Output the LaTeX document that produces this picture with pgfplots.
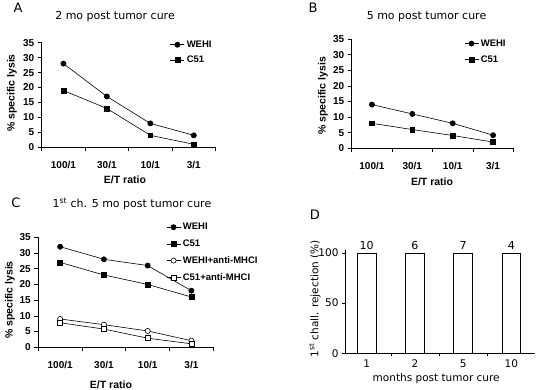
\documentclass[border=0pt]{standalone}
\usepackage{pgfplots}
\pgfplotsset{compat=1.18}
\usepackage{fontspec}
\setmainfont{Liberation Sans}
\newfontfamily\geneva{DejaVu Sans}

\pgfplotsset{
  lineplot/.style={
    scale only axis,
    axis x line*=bottom, axis y line*=left,
    axis line style={-, line width=0.6pt, black},
    xmin=-0.5, xmax=3.5, ymin=0, ymax=35,
    ytick={0,5,...,35},
    xtick={-0.5,0.5,1.5,2.5,3.5}, xticklabels={,,,,},
    extra x ticks={0,1,2,3},
    extra x tick labels={100/1,30/1,10/1,3/1},
    extra x tick style={major tick length=0pt, tick label style={yshift=-10pt}},
    tick align=outside, major tick length=4pt,
    tick style={line width=0.6pt, black},
    tick label style={font=\bfseries\fontsize{10}{12}\selectfont},
    /pgf/number format/assume math mode=true,
    label style={font=\bfseries\fontsize{10.5}{12}\selectfont},
    title style={font=\geneva\fontsize{11}{13}\selectfont, anchor=center},
    clip=false,
    legend style={draw=none, fill=none, font=\bfseries\fontsize{9.5}{11}\selectfont,
      anchor=north west, inner sep=0pt, row sep=3pt, cells={anchor=west}},
    legend image code/.code={\draw[mark repeat=2,mark phase=2] plot coordinates {(0pt,0pt)(7pt,0pt)(14pt,0pt)};},
  },
  wehi/.style={black, line width=0.6pt, mark=*, mark size=2.6pt, mark options={solid, fill=black}},
  cs/.style={black, line width=0.6pt, mark=square*, mark size=2.4pt, mark options={solid, fill=black}},
  wehia/.style={black, line width=0.6pt, mark=*, mark size=2.6pt, mark options={solid, fill=white}},
  csa/.style={black, line width=0.6pt, mark=square*, mark size=2.4pt, mark options={solid, fill=white}},
}

\begin{document}
\begin{tikzpicture}
\useasboundingbox (0pt,0pt) rectangle (536pt,390pt);

% Panel A
\begin{axis}[lineplot, at={(41.7pt,242.7pt)}, anchor=south west, width=173.8pt, height=104.6pt,
  title={2 mo post tumor cure}, title style={at={(axis description cs:0.422,1.188)}},
  xlabel={E/T ratio}, xlabel style={at={(axis description cs:0.479,-0.313)}, anchor=center},
  ylabel={\% specific lysis}, ylabel style={at={(axis description cs:-0.171,0.519)}, anchor=center},
  legend style={at={(axis description cs:0.738,1.04)}}]
\addplot[wehi] coordinates {(0,28) (1,17) (2,8) (3,4)};
\addlegendentry{WEHI}
\addplot[cs] coordinates {(0,19) (1,13) (2,4) (3,1)};
\addlegendentry{C51}
\end{axis}

% Panel B
\begin{axis}[lineplot, at={(351.7pt,241.7pt)}, anchor=south west, width=161.6pt, height=109.3pt,
  title={5 mo post tumor cure}, title style={at={(axis description cs:0.463,1.146)}},
  xlabel={E/T ratio}, xlabel style={at={(axis description cs:0.497,-0.306)}, anchor=center},
  ylabel={\% specific lysis}, ylabel style={at={(axis description cs:-0.178,0.479)}, anchor=center},
  legend style={at={(axis description cs:0.695,1.015)}, row sep=4pt}]
\addplot[wehi] coordinates {(0,14) (1,11) (2,8) (3,4.2)};
\addlegendentry{WEHI}
\addplot[cs] coordinates {(0,8) (1,6) (2,4.1) (3,2)};
\addlegendentry{C51}
\end{axis}

% Panel C
\begin{axis}[lineplot, at={(38.3pt,42.7pt)}, anchor=south west, width=175pt, height=110pt,
  title={1\textsuperscript{st} ch. 5 mo post tumor cure}, title style={at={(axis description cs:0.535,1.248)}},
  xlabel={E/T ratio}, xlabel style={at={(axis description cs:0.415,-0.343)}, anchor=center},
  ylabel={\% specific lysis}, ylabel style={at={(axis description cs:-0.162,0.43)}, anchor=center},
  legend style={at={(axis description cs:0.73,1.148)}, row sep=4.5pt}]
\addplot[wehi] coordinates {(0,32) (1,28) (2,26) (3,18)};
\addlegendentry{WEHI}
\addplot[cs] coordinates {(0,27) (1,23) (2,20) (3,16)};
\addlegendentry{C51}
\addplot[wehia] coordinates {(0,9) (1,7.2) (2,5.2) (3,2.1)};
\addlegendentry{WEHI+anti-MHCI}
\addplot[csa] coordinates {(0,7.8) (1,5.8) (2,2.9) (3,1.1)};
\addlegendentry{C51+anti-MHCI}
\end{axis}

% Panel D
\begin{axis}[at={(345pt,36.7pt)}, anchor=south west, scale only axis, width=190pt, height=103.3pt,
  xmin=-0.45, xmax=3.49, ymin=0, ymax=103,
  axis x line*=bottom, axis y line*=left,
  axis line style={-, line width=0.6pt, black},
  ytick={0,50,100},
  xtick={0.5,1.5,2.5}, xticklabels={,,},
  extra x ticks={0,1,2,3}, extra x tick labels={1,2,5,10},
  extra x tick style={major tick length=0pt, tick label style={yshift=-3pt}},
  tick align=outside, major tick length=3pt,
  tick style={line width=0.6pt, black},
  tick label style={font=\geneva\fontsize{10.5}{12}\selectfont},
  /pgf/number format/assume math mode=true,
  label style={font=\geneva\fontsize{10.5}{12}\selectfont},
  xlabel={months post tumor cure}, xlabel style={at={(axis description cs:0.48,-0.242)}, anchor=center},
  ylabel={1\textsuperscript{st} chall. rejection (\%)}, ylabel style={at={(axis description cs:-0.158,0.527)}, anchor=center},
  clip=false, ybar, bar width=0.39]
\addplot[fill=white, draw=black, line width=0.6pt, nodes near coords, point meta=explicit symbolic,
  nodes near coords style={font=\geneva\fontsize{11}{13}\selectfont, black}]
  coordinates {(0,100) [10] (1,100) [6] (2,100) [7] (3,100) [4]};
\end{axis}

\node[font=\geneva\fontsize{13}{15}\selectfont] at (18pt,382pt) {A};
\node[font=\geneva\fontsize{13}{15}\selectfont] at (313pt,382pt) {B};
\node[font=\geneva\fontsize{13}{15}\selectfont] at (16pt,187pt) {C};
\node[font=\geneva\fontsize{13}{15}\selectfont] at (315pt,175pt) {D};
\end{tikzpicture}
\end{document}
